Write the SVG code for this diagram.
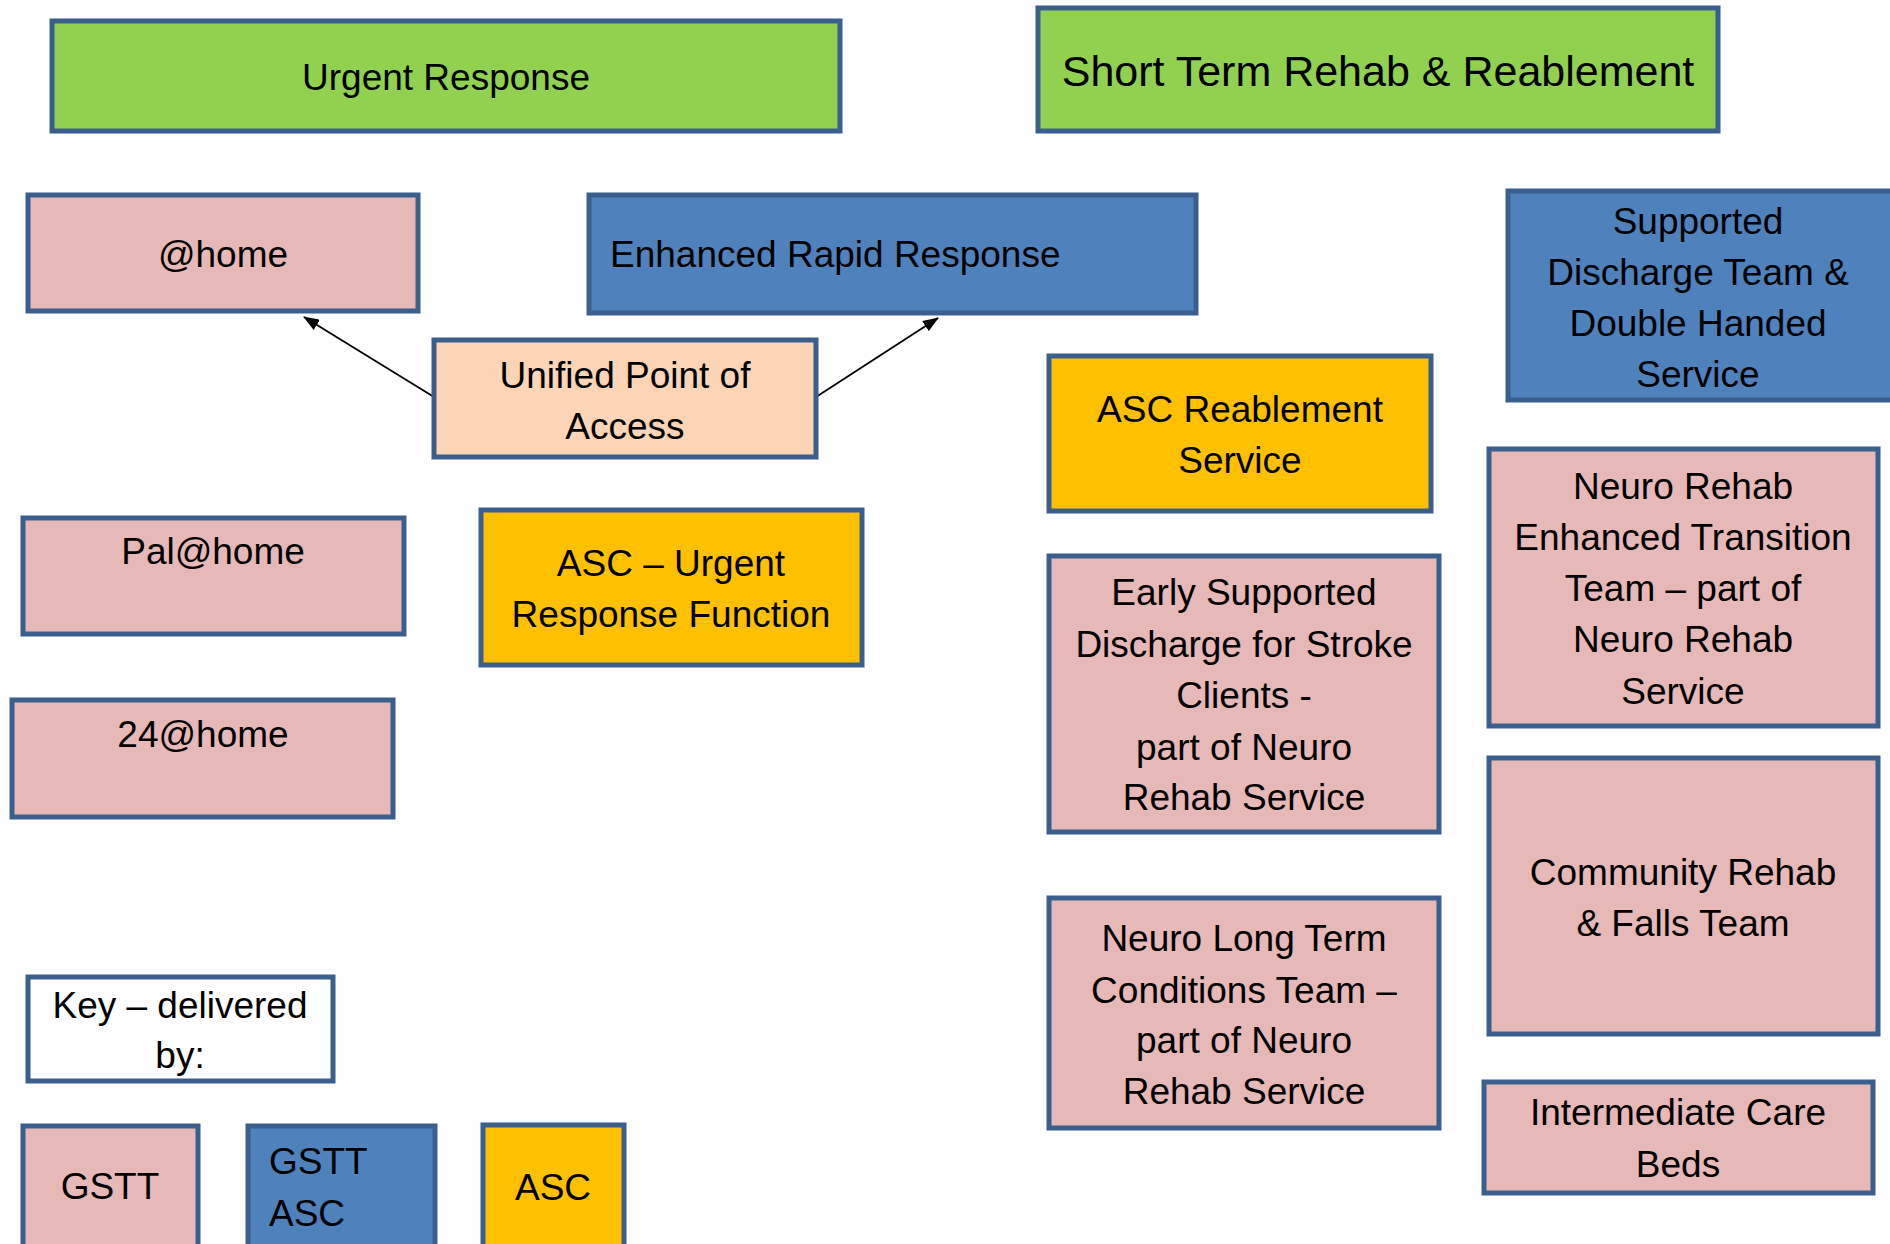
<svg xmlns="http://www.w3.org/2000/svg" width="1890" height="1244" viewBox="0 0 1890 1244">
  <style>
    .box { stroke: #3a5f8c; stroke-width: 5; }
    .green { fill: #92d050; }
    .pink { fill: #e6b8b7; }
    .blue { fill: #4f81bd; }
    .orange { fill: #ffc000; }
    .peach { fill: #fbd5b5; }
    .white { fill: #ffffff; }
    text { font-family: "Liberation Sans", Arial, sans-serif; font-size: 37px; fill: #000000; }
    .c { text-anchor: middle; }
    .big { font-size: 43px; }
    .link { stroke: #000000; stroke-width: 1.8; fill: none; marker-end: url(#arrow); }
  </style>
  <defs>
    <marker id="arrow" viewBox="0 0 16 12" refX="15" refY="6" markerWidth="16" markerHeight="12" markerUnits="userSpaceOnUse" orient="auto">
      <path d="M0,0 L16,6 L0,12 z" fill="#000000"/>
    </marker>
  </defs>
  <rect width="1890" height="1244" fill="#ffffff"/>

  <g id="connectors">
    <line class="link" x1="434" y1="397" x2="304" y2="317"/>
    <line class="link" x1="816" y1="397" x2="938" y2="318"/>
  </g>

  <g id="urgent-response">
    <rect class="box green" x="52" y="21" width="788" height="110"/>
    <text class="c" x="446" y="90">Urgent Response</text>
  </g>

  <g id="short-term-rehab">
    <rect class="box green" x="1038" y="8" width="680" height="123"/>
    <text class="c big" x="1378" y="86">Short Term Rehab &amp; Reablement</text>
  </g>

  <g id="at-home">
    <rect class="box pink" x="28" y="195" width="390" height="116"/>
    <text class="c" x="223" y="267">@home</text>
  </g>

  <g id="enhanced-rapid-response">
    <rect class="box blue" x="589" y="195" width="607" height="118"/>
    <text x="610" y="267">Enhanced Rapid Response</text>
  </g>

  <g id="supported-discharge">
    <rect class="box blue" x="1508" y="191" width="385" height="209"/>
    <text class="c" x="1698" y="234">Supported</text>
    <text class="c" x="1698" y="285">Discharge Team &amp;</text>
    <text class="c" x="1698" y="336">Double Handed</text>
    <text class="c" x="1698" y="387">Service</text>
  </g>

  <g id="unified-point-of-access">
    <rect class="box peach" x="434" y="340" width="382" height="117"/>
    <text class="c" x="625" y="388">Unified Point of</text>
    <text class="c" x="625" y="439">Access</text>
  </g>

  <g id="asc-reablement">
    <rect class="box orange" x="1049" y="356" width="382" height="155"/>
    <text class="c" x="1240" y="422">ASC Reablement</text>
    <text class="c" x="1240" y="473">Service</text>
  </g>

  <g id="pal-at-home">
    <rect class="box pink" x="23" y="518" width="381" height="116"/>
    <text class="c" x="213" y="564">Pal@home</text>
  </g>

  <g id="asc-urgent-response">
    <rect class="box orange" x="481" y="510" width="381" height="155"/>
    <text class="c" x="671" y="576">ASC – Urgent</text>
    <text class="c" x="671" y="627">Response Function</text>
  </g>

  <g id="twenty-four-at-home">
    <rect class="box pink" x="12" y="700" width="381" height="117"/>
    <text class="c" x="203" y="747">24@home</text>
  </g>

  <g id="neuro-rehab-transition">
    <rect class="box pink" x="1489" y="449" width="389" height="277"/>
    <text class="c" x="1683" y="499">Neuro Rehab</text>
    <text class="c" x="1683" y="550">Enhanced Transition</text>
    <text class="c" x="1683" y="601">Team – part of</text>
    <text class="c" x="1683" y="652">Neuro Rehab</text>
    <text class="c" x="1683" y="704">Service</text>
  </g>

  <g id="early-supported-discharge">
    <rect class="box pink" x="1049" y="556" width="390" height="276"/>
    <text class="c" x="1244" y="605">Early Supported</text>
    <text class="c" x="1244" y="657">Discharge for Stroke</text>
    <text class="c" x="1244" y="708">Clients -</text>
    <text class="c" x="1244" y="760">part of Neuro</text>
    <text class="c" x="1244" y="810">Rehab Service</text>
  </g>

  <g id="community-rehab-falls">
    <rect class="box pink" x="1489" y="758" width="389" height="276"/>
    <text class="c" x="1683" y="885">Community Rehab</text>
    <text class="c" x="1683" y="936">&amp; Falls Team</text>
  </g>

  <g id="neuro-long-term">
    <rect class="box pink" x="1049" y="898" width="390" height="230"/>
    <text class="c" x="1244" y="951">Neuro Long Term</text>
    <text class="c" x="1244" y="1003">Conditions Team –</text>
    <text class="c" x="1244" y="1053">part of Neuro</text>
    <text class="c" x="1244" y="1104">Rehab Service</text>
  </g>

  <g id="intermediate-care-beds">
    <rect class="box pink" x="1484" y="1082" width="389" height="111"/>
    <text class="c" x="1678" y="1125">Intermediate Care</text>
    <text class="c" x="1678" y="1177">Beds</text>
  </g>

  <g id="key">
    <rect class="box white" x="28" y="977" width="305" height="104"/>
    <text class="c" x="180" y="1018">Key – delivered</text>
    <text class="c" x="180" y="1068">by:</text>
  </g>

  <g id="key-gstt">
    <rect class="box pink" x="23" y="1126" width="175" height="130"/>
    <text class="c" x="110" y="1199">GSTT</text>
  </g>

  <g id="key-gstt-asc">
    <rect class="box blue" x="248" y="1126" width="187" height="130"/>
    <text x="269" y="1174">GSTT</text>
    <text x="269" y="1226">ASC</text>
  </g>

  <g id="key-asc">
    <rect class="box orange" x="483" y="1125" width="141" height="131"/>
    <text class="c" x="553" y="1200">ASC</text>
  </g>
</svg>
